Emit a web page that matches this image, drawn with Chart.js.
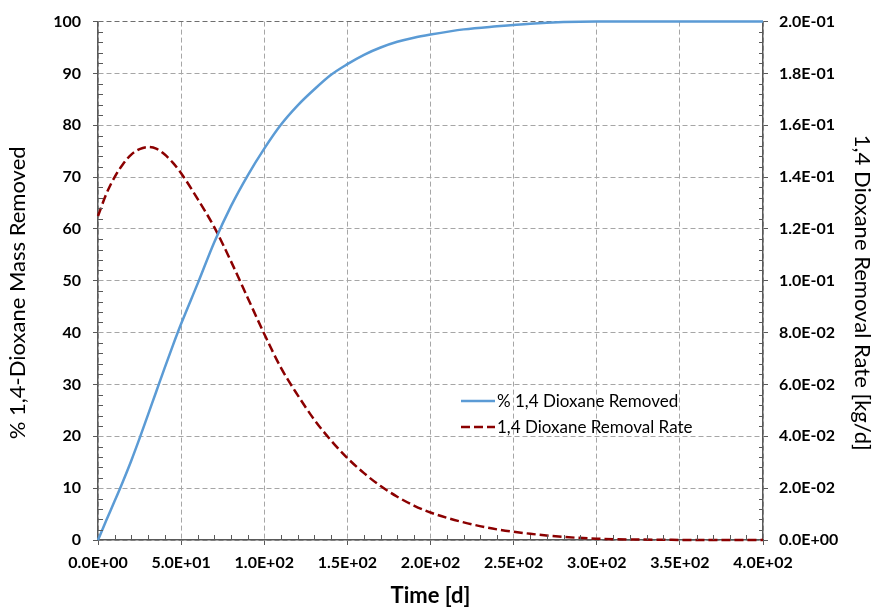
<!DOCTYPE html>
<html><head><meta charset="utf-8">
<script src="https://cdn.jsdelivr.net/npm/chart.js@4.4.1/dist/chart.umd.min.js"></script>
<style>html,body{margin:0;padding:0;background:#fff;} #wrap{width:878px;height:609px;position:relative;}</style>
</head><body><div id="wrap"><canvas id="c" width="878" height="609"></canvas></div>
<script>
const timeDays = [0,5,10,15,20,25,30,35,40,45,50,60,70,80,90,100,110,120,130,140,150,160,170,180,190,200,220,240,260,280,300,320,340,360,380,400];
const pctRemoved = [0,3.8,7.5,11.3,15.3,19.6,24.1,28.6,33.1,37.5,41.7,49.5,57.5,64.4,70.3,75.5,80.1,83.8,86.9,89.7,91.8,93.6,95.0,96.1,96.9,97.5,98.5,99.1,99.6,99.9,100,100,100,100,100,100];
const removalRate = [0.125,0.1335,0.1400,0.1450,0.1487,0.1508,0.1516,0.1510,0.1488,0.1456,0.1415,0.1315,0.1206,0.1075,0.0935,0.0795,0.0665,0.0560,0.0465,0.0385,0.0316,0.0258,0.0208,0.0167,0.0133,0.0106,0.0068,0.0041,0.0024,0.0012,0.0005,0.0002,0.0001,0,0,0];
const seriesLabels = ['% 1,4 Dioxane Removed','1,4 Dioxane Removal Rate'];
const xTitle = 'Time [d]';
const yTitle = '% 1,4-Dioxane Mass Removed';
const y1Title = '1,4 Dioxane Removal Rate [kg/d]';

function sci(v){
  if (Math.abs(v) < 1e-12) return '0.0E+00';
  let e = Math.floor(Math.log10(Math.abs(v)) + 1e-9);
  let m = v / Math.pow(10, e);
  let ms = m.toFixed(1);
  if (ms === '10.0') { ms = '1.0'; e += 1; }
  return ms + 'E' + (e < 0 ? '-' : '+') + String(Math.abs(e)).padStart(2, '0');
}

const FONT = 'Lato, "Open Sans", sans-serif';
const AXIS_COLOR = '#595959';
const GRID_COLOR = '#a6a6a6';

const minorTicks = {
  id: 'minorTicks',
  afterDatasetsDraw(chart) {
    const {ctx, chartArea} = chart;
    const sx = chart.scales.x, sy = chart.scales.y, sy1 = chart.scales.y1;
    ctx.save();
    ctx.strokeStyle = AXIS_COLOR;
    ctx.lineWidth = 1;
    ctx.beginPath();
    for (let v = 10; v < 400; v += 10) {
      if (v % 50 === 0) continue;
      const px = Math.round(sx.getPixelForValue(v)) + 0.5;
      ctx.moveTo(px, chartArea.bottom);
      ctx.lineTo(px, chartArea.bottom - 5);
    }
    for (let v = 2; v < 100; v += 2) {
      if (v % 10 === 0) continue;
      const py = Math.round(sy.getPixelForValue(v)) + 0.5;
      ctx.moveTo(chartArea.left, py);
      ctx.lineTo(chartArea.left + 5, py);
    }
    for (let k = 1; k < 50; k++) {
      if (k % 5 === 0) continue;
      const py = Math.round(sy1.getPixelForValue(k * 0.004)) + 0.5;
      ctx.moveTo(chartArea.right, py);
      ctx.lineTo(chartArea.right - 4, py);
    }
    ctx.stroke();
    ctx.restore();
  }
};

const sideTitles = {
  id: 'sideTitles',
  afterDraw(chart) {
    const {ctx, chartArea} = chart;
    const cy = (chartArea.top + chartArea.bottom) / 2 + 12;
    ctx.save();
    ctx.font = '22px ' + FONT;
    ctx.fillStyle = '#000';
    ctx.textAlign = 'center';
    ctx.textBaseline = 'middle';
    ctx.save();
    ctx.translate(18, cy);
    ctx.rotate(-Math.PI / 2);
    ctx.fillText(yTitle, 0, 0);
    ctx.restore();
    ctx.save();
    ctx.translate(chart.width - 16, cy);
    ctx.rotate(Math.PI / 2);
    ctx.fillText(y1Title, 0, 0);
    ctx.restore();
    ctx.restore();
  }
};

const customLegend = {
  id: 'customLegend',
  afterDraw(chart) {
    const {ctx} = chart;
    ctx.save();
    ctx.font = '17px ' + FONT;
    ctx.textBaseline = 'middle';
    ctx.fillStyle = '#000';
    chart.data.datasets.forEach((ds, i) => {
      const y = 401 + i * 26;
      ctx.beginPath();
      ctx.strokeStyle = ds.borderColor;
      ctx.lineWidth = ds.borderWidth;
      ctx.setLineDash(ds.borderDash || []);
      ctx.moveTo(461, y);
      ctx.lineTo(495, y);
      ctx.stroke();
      ctx.setLineDash([]);
      ctx.fillText(ds.label, 497, y + 1);
    });
    ctx.restore();
  }
};

new Chart(document.getElementById('c'), {
  type: 'line',
  data: {
    datasets: [
      {
        label: seriesLabels[0],
        data: timeDays.map((t, i) => ({x: t, y: pctRemoved[i]})),
        yAxisID: 'y',
        borderColor: '#5B9BD5',
        borderWidth: 2.5,
        pointRadius: 0,
        cubicInterpolationMode: 'monotone',
        clip: false
      },
      {
        label: seriesLabels[1],
        data: timeDays.map((t, i) => ({x: t, y: removalRate[i]})),
        yAxisID: 'y1',
        borderColor: '#8B0000',
        borderWidth: 2.5,
        borderDash: [9, 4],
        pointRadius: 0,
        cubicInterpolationMode: 'monotone',
        clip: false
      }
    ]
  },
  options: {
    responsive: false,
    animation: false,
    devicePixelRatio: 1,
    layout: {padding: {top: 20, left: 0, right: 0, bottom: 0}},
    plugins: {legend: {display: false}, tooltip: {enabled: false}},
    scales: {
      x: {
        type: 'linear', min: 0, max: 400,
        afterFit(s) { s.height = 69; },
        ticks: {stepSize: 50, callback: v => sci(v), color: '#000', padding: 8, maxRotation: 0,
          font: {family: FONT, size: 16, weight: 'bold'}},
        grid: {color: GRID_COLOR, lineWidth: 1, tickLength: 5, tickColor: AXIS_COLOR, tickWidth: 1},
        border: {color: AXIS_COLOR, width: 1.5, dash: [5, 3]},
        title: {display: true, text: xTitle, color: '#000', padding: {top: 0, bottom: 0},
          font: {family: FONT, size: 22, weight: 'bold'}}
      },
      y: {
        position: 'left', min: 0, max: 100,
        afterFit(s) { s.width = 98; },
        ticks: {stepSize: 10, color: '#000', padding: 12,
          font: {family: FONT, size: 16, weight: 'bold'}},
        grid: {color: ctx => (ctx.tick && ctx.tick.value === 100) ? '#6e6e6e' : GRID_COLOR,
          lineWidth: 1, tickLength: 5, tickColor: AXIS_COLOR, tickWidth: 1},
        border: {color: AXIS_COLOR, width: 1.5, dash: [5, 3]},
        title: {display: false, text: yTitle}
      },
      y1: {
        position: 'right', min: 0, max: 0.2,
        afterFit(s) { s.width = 115; },
        ticks: {stepSize: 0.02, callback: v => sci(v), color: '#000', padding: 11,
          font: {family: FONT, size: 16, weight: 'bold'}},
        grid: {drawOnChartArea: false, tickLength: 5, tickColor: AXIS_COLOR, tickWidth: 1},
        border: {color: AXIS_COLOR, width: 1.5},
        title: {display: false, text: y1Title}
      }
    }
  },
  plugins: [minorTicks, sideTitles, customLegend]
});
</script>
</body></html>
